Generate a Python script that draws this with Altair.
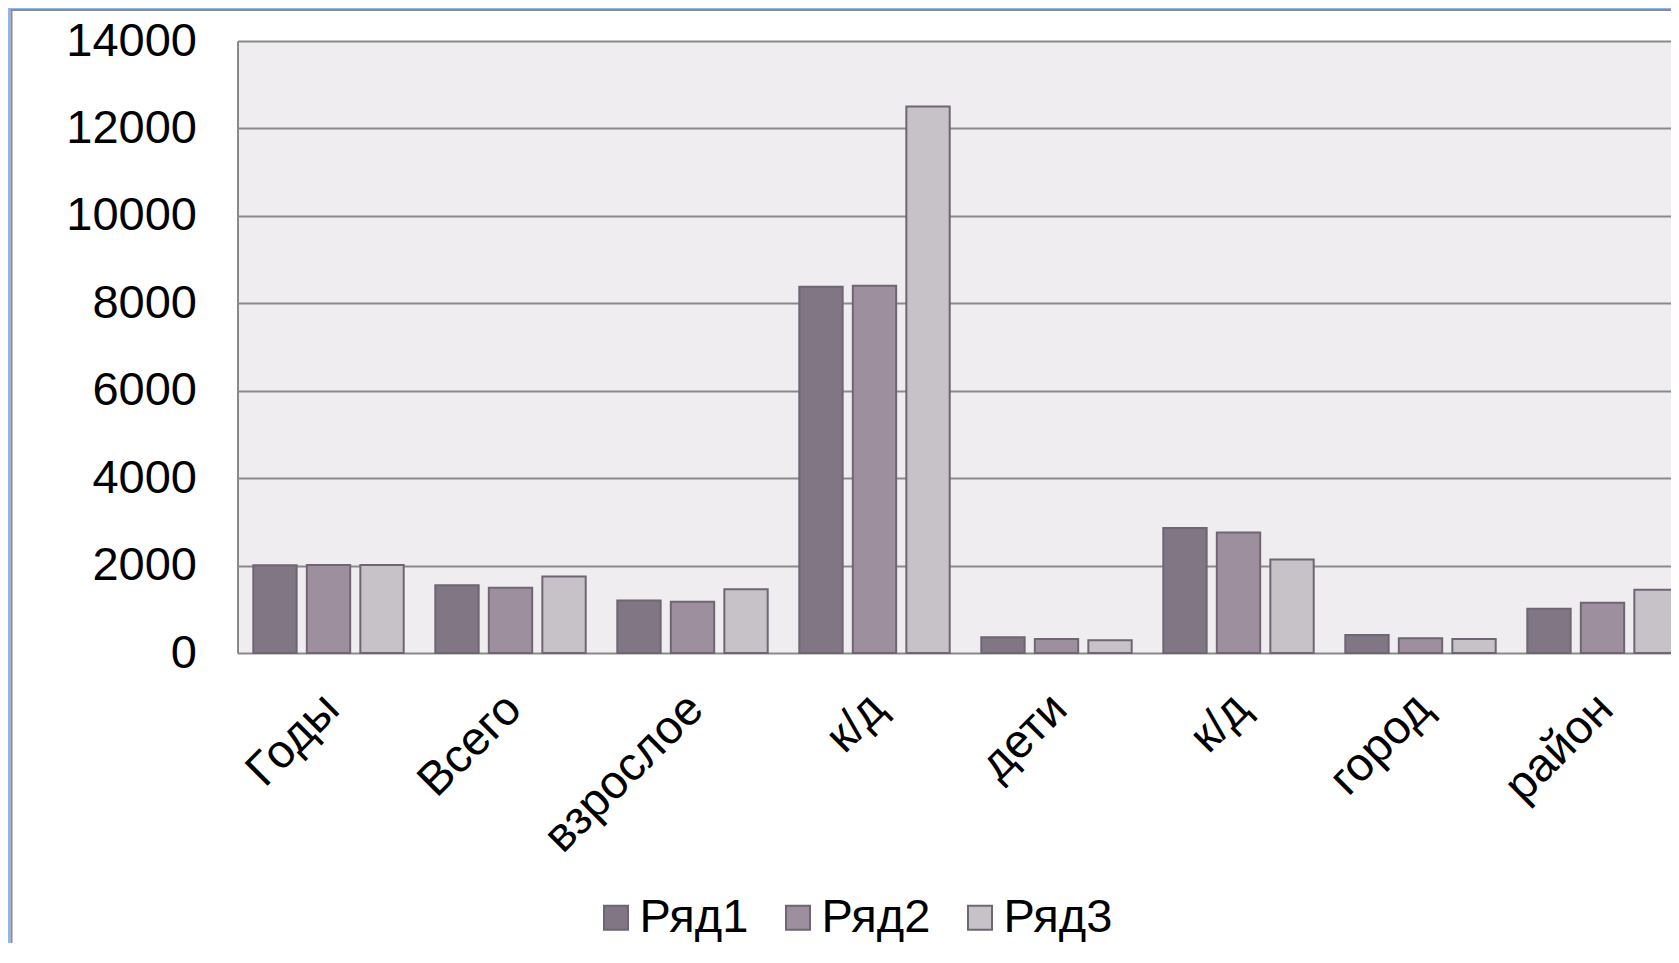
import altair as alt
import pandas as pd

# ---- data ----
categories = ["Годы", "Всего", "взрослое", "к/д", "дети", "к/д", "город", "район"]
series_names = ["Ряд1", "Ряд2", "Ряд3"]
row1 = [2010, 1550, 1200, 8380, 360, 2860, 410, 1015]
row2 = [2011, 1490, 1175, 8400, 320, 2755, 337, 1150]
row3 = [2012, 1750, 1460, 12500, 290, 2140, 320, 1445]
y_ticks = [0, 2000, 4000, 6000, 8000, 10000, 12000, 14000]
colors = ["#817684", "#9e8f9f", "#c6c2c8"]

rows = []
for i, cat in enumerate(categories):
    for s, vals in zip(series_names, [row1, row2, row3]):
        rows.append({"idx": i, "series": s, "value": vals[i]})
df = pd.DataFrame(rows)

label_expr = "[" + ",".join("'" + c + "'" for c in categories) + "][datum.value]"

FONT = "Liberation Sans"
FS = 47
GRID = "#8a8a8a"
PI = 0.1736
PAD_L, PAD_T = 229.5, 33
VIEW_W = 1433.5          # visible part of the plot area
BAND_RANGE = 1456        # the category axis continues past the page edge

bars = alt.Chart(df).mark_bar(stroke="#6f6573", strokeWidth=2).encode(
    x=alt.X(
        "idx:N",
        sort=list(range(len(categories))),
        scale=alt.Scale(paddingInner=PI, paddingOuter=PI / 2, align=0.5,
                        range=[0, BAND_RANGE]),
        axis=alt.Axis(
            title=None, labelExpr=label_expr, labelAngle=-45, labelAlign="right",
            labelBaseline="top", labelFontSize=FS, labelFont=FONT, labelColor="black",
            labelPadding=32, labelOffset=-13, ticks=False, tickSize=0, domain=False,
            grid=False, labelOverlap=False, labelLimit=0,
        ),
    ),
    xOffset=alt.XOffset("series:N", sort=series_names,
                        scale=alt.Scale(paddingInner=0.19, paddingOuter=0)),
    y=alt.Y(
        "value:Q",
        scale=alt.Scale(domain=[0, 14000], nice=False),
        axis=alt.Axis(
            values=y_ticks, format="d", title=None, grid=True, gridColor=GRID,
            gridWidth=2, gridOpacity=1, domain=True, domainColor=GRID, domainWidth=2,
            ticks=False, tickSize=0, labelFontSize=FS, labelFont=FONT,
            labelColor="black", labelPadding=41, labelBaseline="middle",
        ),
    ),
    color=alt.Color(
        "series:N",
        scale=alt.Scale(domain=series_names, range=colors),
        legend=alt.Legend(
            title=None, orient="none", legendX=355, legendY=853,
            direction="horizontal", symbolType="square", symbolSize=576,
            symbolStrokeWidth=2, symbolStrokeColor="#6f6573", symbolOpacity=1,
            labelFontSize=FS, labelFont=FONT, labelColor="black",
            labelOffset=0, columnPadding=26, padding=0,
        ),
    ),
)

# decorative slide frame (blue backdrop edge and grey panel border)
frame_df = pd.DataFrame({"k": [0]})
frame = alt.Chart(frame_df)
blue_left = frame.mark_rect(color="#8fb6f4").encode(
    x=alt.value(-PAD_L), x2=alt.value(-PAD_L + 2.5), y=alt.value(-PAD_T), y2=alt.value(1000))
blue_top = frame.mark_rect(color="#8fb6f4").encode(
    x=alt.value(-PAD_L), x2=alt.value(2000), y=alt.value(-PAD_T), y2=alt.value(-PAD_T + 1))
grey_left = frame.mark_rect(color="#8c8c8c").encode(
    x=alt.value(-PAD_L + 2.5), x2=alt.value(-PAD_L + 4.5), y=alt.value(-PAD_T + 1), y2=alt.value(1000))
grey_top = frame.mark_rect(color="#8c8c8c").encode(
    x=alt.value(-PAD_L + 2.5), x2=alt.value(2000), y=alt.value(-PAD_T + 1), y2=alt.value(-PAD_T + 3))

chart = alt.layer(blue_left, blue_top, grey_left, grey_top, bars).properties(
    width=VIEW_W,
    height=612,
    autosize=alt.AutoSizeParams(type="none"),
    padding={"left": PAD_L, "top": PAD_T, "right": 0, "bottom": 290},
).configure(
    font=FONT,
    background="white",
).configure_view(
    stroke=None,
    fill="#efedf0",
)

chart.save("out.html", embed_options={"renderer": "svg", "actions": False})
